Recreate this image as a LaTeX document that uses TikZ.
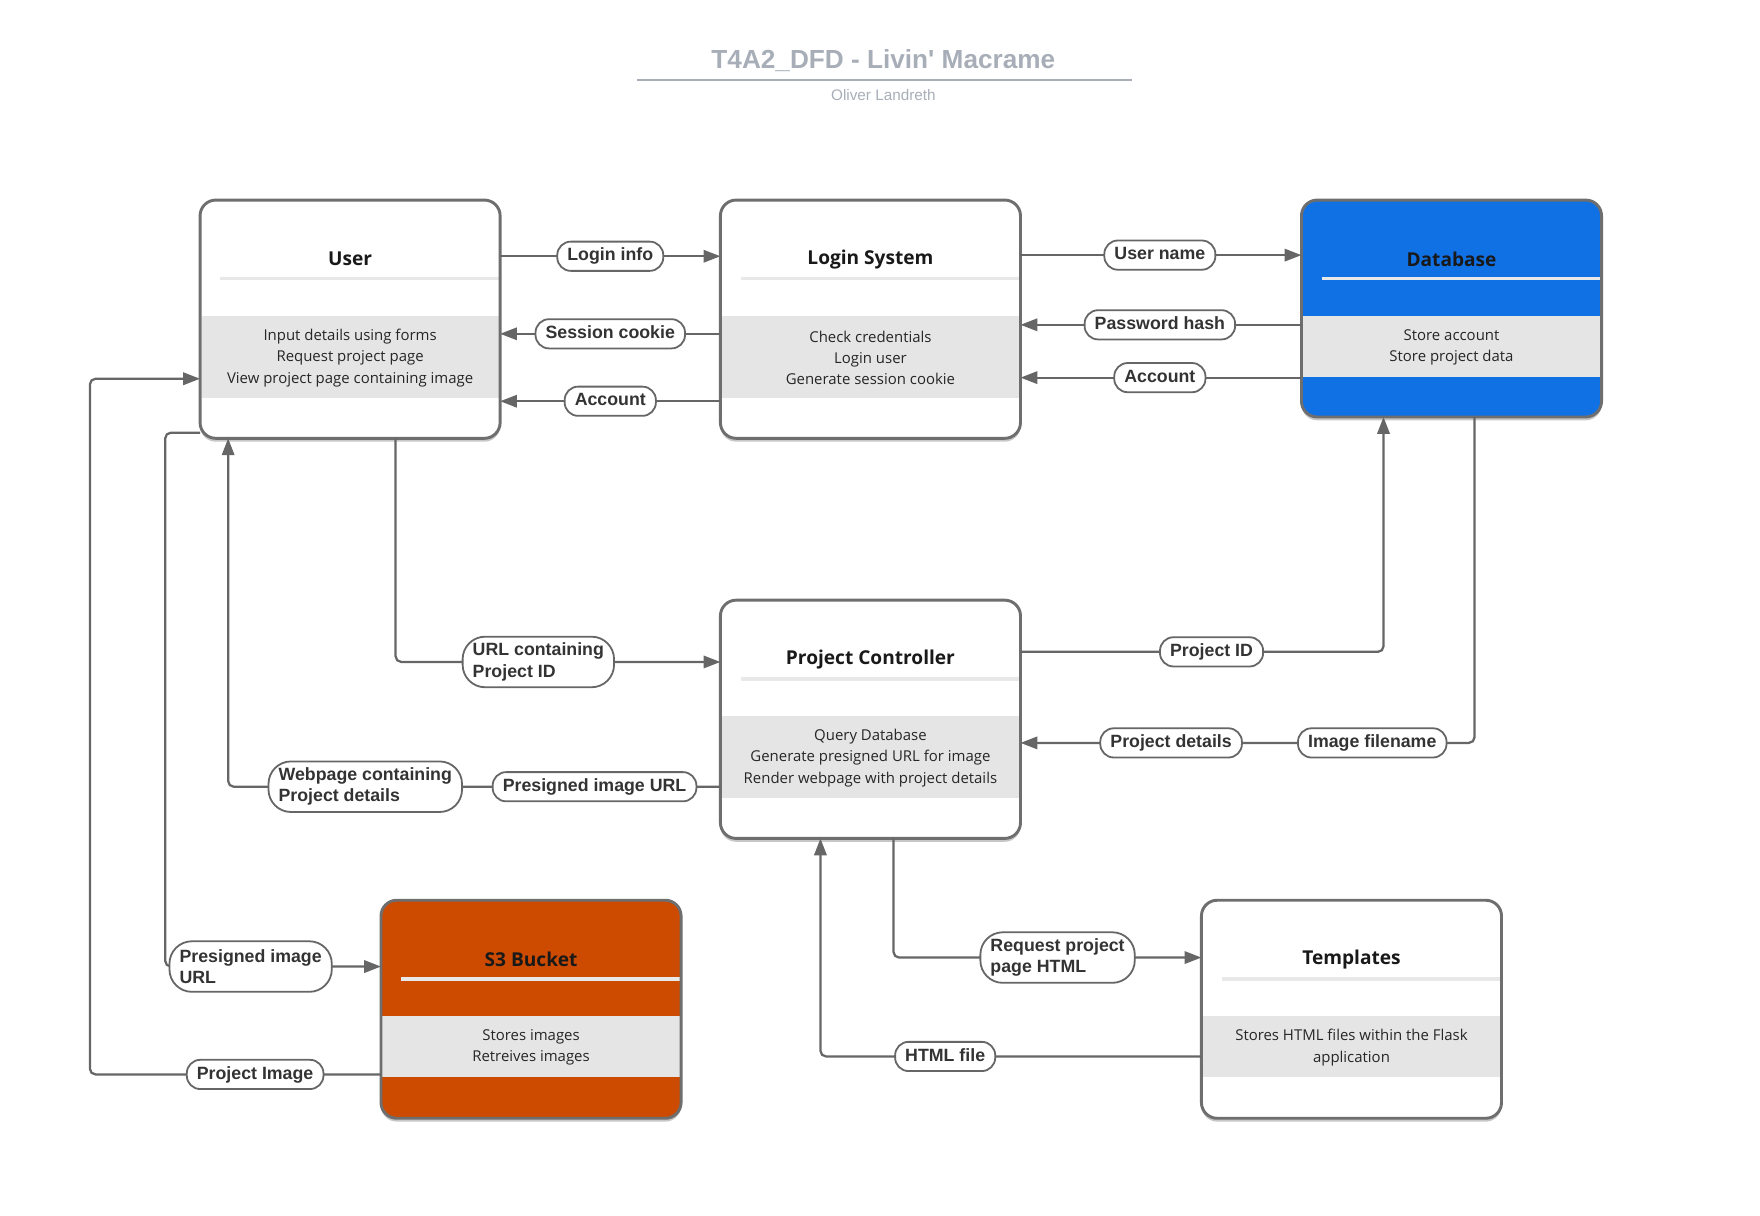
\documentclass[tikz,border=0pt]{standalone}
\usepackage{fontspec}
\setmainfont{Open Sans}
\newfontfamily\lblfont{Liberation Sans}
\usetikzlibrary{arrows.meta,shadows,calc}
\definecolor{linegrey}{HTML}{666666}
\definecolor{bordergrey}{HTML}{6E6E6E}
\definecolor{bandgrey}{HTML}{E5E5E5}
\definecolor{sepgrey}{HTML}{E8E8E8}
\definecolor{dbblue}{HTML}{1071E5}
\definecolor{s3orange}{HTML}{CC4B00}
\definecolor{titlegrey}{HTML}{A8AEB8}
\definecolor{labeltext}{HTML}{333333}
\newcommand\boxinner[5]{%
  \fill[bandgrey] ([xshift=1.3pt,yshift=-103pt]#1.north west) rectangle ([xshift=-1.3pt,yshift=-#2pt]#1.north east);
  \draw[line width=3pt,#3] ([xshift=18pt,yshift=-70pt]#1.north west) -- ([xshift=-1.3pt,yshift=-70pt]#1.north east);
  \draw[boxborder] (#1.north west) rectangle (#1.south east);
  \node[boxtitle] (#1-title) at ([yshift=-52.5pt]#1.north) {#4};
  \node[boxtext] (#1-text) at ($([yshift=-105pt]#1.north)!0.5!([yshift=-#2pt]#1.north)$) {#5};
}
\begin{document}
\begin{tikzpicture}[x=1pt,y=-1pt,
  boxshape/.style={rectangle, rounded corners=14pt, minimum width=267pt, outer sep=0pt, inner sep=0pt,
    drop shadow={shadow xshift=0pt, shadow yshift=-3pt, opacity=0.22, fill=black}},
  boxborder/.style={draw=bordergrey, line width=2.6pt, rounded corners=14pt},
  boxtitle/.style={font=\bfseries\fontsize{17}{20}\selectfont, text=black!90, inner sep=0pt},
  boxtext/.style={font=\fontsize{13.3}{19}\selectfont, align=center, text=black!85, inner sep=0pt},
  pill/.style={draw=linegrey, line width=1.6pt, fill=white, rounded corners=12pt,
    font=\lblfont\bfseries\fontsize{15.8}{19}\selectfont, text=labeltext,
    inner xsep=9pt, inner ysep=0pt, minimum height=26pt, outer sep=0pt,
    text height=11.5pt, text depth=3.3pt},
  pilltwo/.style={draw=linegrey, line width=1.6pt, fill=white, rounded corners=20pt,
    font=\lblfont\bfseries\fontsize{15.8}{19}\selectfont, text=labeltext,
    inner xsep=9pt, inner ysep=0pt, minimum height=45pt, outer sep=0pt, align=left},
  flow/.style={draw=linegrey, line width=2pt, rounded corners=5pt,
    -{Triangle[length=15pt,width=11pt]}}
]
\useasboundingbox (0,0) rectangle (1566,1081.5);

% ---------- title ----------
\node[font=\lblfont\bfseries\fontsize{23.3}{26}\selectfont, text=titlegrey, inner sep=0pt] (title) at (786,54) {T4A2\_DFD - Livin' Macrame};
\node[font=\lblfont\fontsize{13.6}{16}\selectfont, text=titlegrey, inner sep=0pt] (subtitle) at (786,85) {Oliver Landreth};
\draw[titlegrey, line width=1.5pt] (567,71) coordinate (ulA) -- (1007,71) coordinate (ulB);

% ---------- boxes ----------
\node[boxshape, fill=white, minimum height=212pt, anchor=north west] (user) at (178,178) {};
\boxinner{user}{176}{sepgrey}{User}{Input details using forms\\Request project page\\View project page containing image}

\node[boxshape, fill=white, minimum height=212pt, anchor=north west] (login) at (641,178) {};
\boxinner{login}{176}{sepgrey}{Login System}{Check credentials\\Login user\\Generate session cookie}

\node[boxshape, fill=dbblue, minimum height=193pt, anchor=north west] (db) at (1158,178) {};
\boxinner{db}{157}{sepgrey}{Database}{Store account\\Store project data}

\node[boxshape, fill=white, minimum height=212pt, anchor=north west] (pc) at (641,534) {};
\boxinner{pc}{176}{sepgrey}{Project Controller}{Query Database\\Generate presigned URL for image\\Render webpage with project details}

\node[boxshape, fill=s3orange, minimum height=194pt, anchor=north west] (s3) at (339,801) {};
\boxinner{s3}{157}{sepgrey}{S3 Bucket}{Stores images\\Retreives images}

\node[boxshape, fill=white, minimum height=194pt, anchor=north west] (tpl) at (1069,801) {};
\boxinner{tpl}{157}{sepgrey}{Templates}{Stores HTML files within the Flask\\application}

% ---------- label positions ----------
\coordinate (p1) at (543,228);
\coordinate (p2) at (543,297);
\coordinate (p3) at (543,357);
\coordinate (p4) at (1032,227);
\coordinate (p5) at (1032,289);
\coordinate (p6) at (1032,336);
\coordinate (p7) at (479,589);
\coordinate (p8) at (1078,580);
\coordinate (p9a) at (1221,661);
\coordinate (p9b) at (1042,661);
\coordinate (p10a) at (529,700);
\coordinate (p10b) at (325,700);
\coordinate (p11) at (223,860);
\coordinate (p12) at (227,956);
\coordinate (p13) at (941,852);
\coordinate (p14) at (841,940);
\coordinate (c11) at (147,860);
\coordinate (c12) at (80,337);

% ---------- connectors ----------
\draw[flow] (user.east |- p1) -- (login.west |- p1);
\draw[flow] (login.west |- p2) -- (user.east |- p2);
\draw[flow] (login.west |- p3) -- (user.east |- p3);
\draw[flow] (login.east |- p4) -- (db.west |- p4);
\draw[flow] (db.west |- p5) -- (login.east |- p5);
\draw[flow] (db.west |- p6) -- (login.east |- p6);
\draw[flow] ([xshift=174pt]user.south west) |- (p7) -- (pc.west |- p7);
\draw[flow] (pc.east |- p8) -| ([xshift=73pt]db.south west);
\draw[flow] ([xshift=154pt]db.south west) |- (p9a) -- (pc.east |- p9a);
\draw[flow] (pc.west |- p10a) -| ([xshift=25pt]user.south west);
\draw[flow] ([yshift=5pt]user.south west) -| (c11) -- (s3.west |- c11);
\draw[flow] (s3.west |- p12) -| (c12) -- (user.west |- c12);
\draw[flow] ([xshift=154pt]pc.south west) |- (p13) -- (tpl.west |- p13);
\draw[flow] (tpl.west |- p14) -| ([xshift=89pt]pc.south west);

% ---------- labels ----------
\node[pill] (l1) at (p1) {Login info};
\node[pill] (l2) at (p2) {Session cookie};
\node[pill] (l3) at (p3) {Account};
\node[pill] (l4) at (p4) {User name};
\node[pill] (l5) at (p5) {Password hash};
\node[pill] (l6) at (p6) {Account};
\node[pilltwo] (l7) at (p7) {URL containing\\Project ID};
\node[pill] (l8) at (p8) {Project ID};
\node[pill] (l9a) at (p9a) {Image filename};
\node[pill] (l9b) at (p9b) {Project details};
\node[pill] (l10a) at (p10a) {Presigned image URL};
\node[pilltwo] (l10b) at (p10b) {Webpage containing\\Project details};
\node[pilltwo] (l11) at (p11) {Presigned image\\URL};
\node[pill] (l12) at (p12) {Project Image};
\node[pilltwo] (l13) at (p13) {Request project\\page HTML};
\node[pill] (l14) at (p14) {HTML file};
\end{tikzpicture}
\end{document}
